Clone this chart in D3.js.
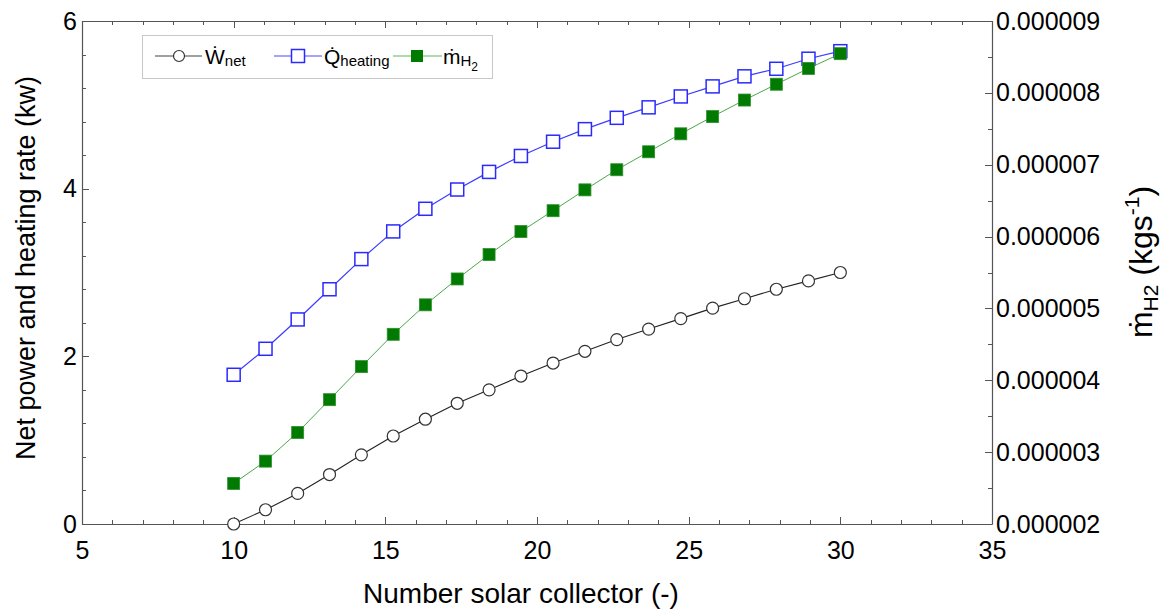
<!DOCTYPE html>
<html>
<head>
<meta charset="utf-8">
<script src="https://cdn.jsdelivr.net/npm/d3@7"></script>
<style>
  html, body { margin: 0; padding: 0; background: #fff; }
  svg { display: block; font-family: "Liberation Sans", Arial, sans-serif; }
</style>
</head>
<body>
<svg id="chart" width="1163" height="613"></svg>
<script>
// Number of solar collectors (20 design points between 10 and 30)
const collectors = [10, 11.05, 12.11, 13.16, 14.21, 15.26, 16.32, 17.37, 18.42, 19.47,
                    20.53, 21.58, 22.63, 23.68, 24.74, 25.79, 26.84, 27.89, 28.95, 30];
// Net power output (kW)
const wNet = [0.00, 0.17, 0.365, 0.59, 0.825, 1.05, 1.25, 1.44, 1.60, 1.765,
              1.92, 2.06, 2.20, 2.325, 2.45, 2.575, 2.687, 2.80, 2.90, 3.00];
// Heating rate (kW)
const qHeating = [1.78, 2.09, 2.44, 2.80, 3.16, 3.49, 3.76, 3.99, 4.20, 4.39,
                  4.56, 4.71, 4.845, 4.97, 5.10, 5.22, 5.34, 5.43, 5.55, 5.64];
// Hydrogen production rate (kg/s)
const mH2 = [2.565e-6, 2.875e-6, 3.274e-6, 3.73e-6, 4.19e-6, 4.64e-6, 5.05e-6, 5.41e-6, 5.75e-6, 6.07e-6,
             6.36e-6, 6.65e-6, 6.93e-6, 7.18e-6, 7.43e-6, 7.67e-6, 7.90e-6, 8.12e-6, 8.34e-6, 8.545e-6];

const xTicks = [5, 10, 15, 20, 25, 30, 35];
const yLeftTicks = [0, 2, 4, 6];
const yRightTicks = [2e-6, 3e-6, 4e-6, 5e-6, 6e-6, 7e-6, 8e-6, 9e-6];

const svg = d3.select("#chart");
const L = 82, R = 992, T = 21, B = 524;

const x = d3.scaleLinear().domain([5, 35]).range([L, R]);
const yL = d3.scaleLinear().domain([0, 6]).range([B, T]);
const yR = d3.scaleLinear().domain([2e-6, 9e-6]).range([B, T]);

const axisColor = "#555";
const tickFont = 25;

// Minor and major tick marks, all pointing into the plot
const gMinor = svg.append("g").attr("stroke", axisColor).attr("stroke-width", 1);
d3.range(5, 35.01, 1).forEach(v => {
  const px = Math.round(x(v)) + 0.5;
  const len = (v % 5 === 0) ? 7 : 4;
  gMinor.append("line").attr("x1", px).attr("x2", px).attr("y1", B).attr("y2", B - len);
  gMinor.append("line").attr("x1", px).attr("x2", px).attr("y1", T).attr("y2", T + len);
});
d3.range(0, 6.001, 0.4).forEach(v => {
  const py = Math.round(yL(v)) + 0.5;
  const major = Math.abs(v / 2 - Math.round(v / 2)) < 1e-6;
  gMinor.append("line").attr("x1", L).attr("x2", L + (major ? 7 : 4)).attr("y1", py).attr("y2", py);
});
d3.range(2e-6, 9.0001e-6, 0.5e-6).forEach((v, i) => {
  const py = Math.round(yR(v)) + 0.5;
  gMinor.append("line").attr("x1", R).attr("x2", R - (i % 2 === 0 ? 7 : 4)).attr("y1", py).attr("y2", py);
});

// Axes (frame lines plus labels)
const xAxis = svg.append("g").attr("transform", `translate(0,${B})`)
  .call(d3.axisBottom(x).tickValues(xTicks).tickFormat(d3.format("d")).tickSize(0).tickPadding(17));
svg.append("line").attr("x1", L).attr("x2", R).attr("y1", T + 0.5).attr("y2", T + 0.5)
  .attr("stroke", axisColor).attr("stroke-width", 1.2);
const yAxisL = svg.append("g").attr("transform", `translate(${L},0)`)
  .call(d3.axisLeft(yL).tickValues(yLeftTicks).tickFormat(d3.format("d")).tickSize(0).tickPadding(5));
const yAxisR = svg.append("g").attr("transform", `translate(${R},0)`)
  .call(d3.axisRight(yR).tickValues(yRightTicks).tickFormat(d3.format(".6f")).tickSize(0).tickPadding(4));

[xAxis, yAxisL, yAxisR].forEach(g => {
  g.select(".domain").attr("stroke", axisColor).attr("stroke-width", 1.2);
  g.selectAll("text").attr("font-size", tickFont).attr("fill", "#000")
    .attr("font-family", "'Liberation Sans', Arial, sans-serif");
});

// Axis titles
svg.append("text")
  .attr("x", 521).attr("y", 603)
  .attr("text-anchor", "middle").attr("font-size", 28)
  .text("Number solar collector (-)");

svg.append("text")
  .attr("transform", `translate(35,268) rotate(-90)`)
  .attr("text-anchor", "middle").attr("font-size", 27)
  .text("Net power and heating rate (kw)");

const rTitle = svg.append("text")
  .attr("transform", `translate(1152,262) rotate(-90)`)
  .attr("text-anchor", "middle").attr("font-size", 32);
rTitle.append("tspan").text("\u1E41");
rTitle.append("tspan").attr("font-size", 21).attr("dy", 6).text("H2");
rTitle.append("tspan").attr("dy", -6).text(" (kgs");
rTitle.append("tspan").attr("font-size", 21).attr("dy", -13).text("-1");
rTitle.append("tspan").attr("dy", 13).text(")");

// Series
const lineL = d3.line().x((d, i) => x(collectors[i])).y(d => yL(d));
const lineR = d3.line().x((d, i) => x(collectors[i])).y(d => yR(d));

// Net power: open circles
svg.append("path").datum(wNet).attr("d", lineL)
  .attr("fill", "none").attr("stroke", "#222").attr("stroke-width", 1.1);
svg.append("g").selectAll("circle").data(wNet).join("circle")
  .attr("cx", (d, i) => x(collectors[i])).attr("cy", d => yL(d)).attr("r", 6)
  .attr("fill", "#fff").attr("stroke", "#333").attr("stroke-width", 1.2);

// Heating rate: open blue squares
const sq = 13;
svg.append("path").datum(qHeating).attr("d", lineL)
  .attr("fill", "none").attr("stroke", "#3b3bff").attr("stroke-width", 1.2);
svg.append("g").selectAll("rect").data(qHeating).join("rect")
  .attr("x", (d, i) => x(collectors[i]) - sq / 2).attr("y", d => yL(d) - sq / 2)
  .attr("width", sq).attr("height", sq)
  .attr("fill", "#fff").attr("stroke", "#2a2aff").attr("stroke-width", 1.5);

// Hydrogen rate: filled green squares on the right axis
const gs = 12;
svg.append("path").datum(mH2).attr("d", lineR)
  .attr("fill", "none").attr("stroke", "#4aa84a").attr("stroke-width", 1);
svg.append("g").selectAll("rect").data(mH2).join("rect")
  .attr("x", (d, i) => x(collectors[i]) - gs / 2).attr("y", d => yR(d) - gs / 2)
  .attr("width", gs).attr("height", gs)
  .attr("fill", "#007a00").attr("stroke", "#2f8f2f").attr("stroke-width", 0.8);

// Legend
const lg = svg.append("g");
lg.append("rect").attr("x", 142.5).attr("y", 35.5).attr("width", 350).attr("height", 43)
  .attr("fill", "#fff").attr("stroke", "#c8c8c8").attr("stroke-width", 1);
const ly = 56;
// Net power entry
lg.append("line").attr("x1", 155).attr("x2", 202).attr("y1", ly).attr("y2", ly)
  .attr("stroke", "#444").attr("stroke-width", 1.2);
lg.append("circle").attr("cx", 179).attr("cy", ly).attr("r", 5.5)
  .attr("fill", "#fff").attr("stroke", "#333").attr("stroke-width", 1.2);
const t1 = lg.append("text").attr("x", 205).attr("y", ly + 8).attr("font-size", 21);
t1.append("tspan").text("\u1E86");
t1.append("tspan").attr("font-size", 15).attr("dy", 2).text("net");
// Heating entry
lg.append("line").attr("x1", 274).attr("x2", 322).attr("y1", ly).attr("y2", ly)
  .attr("stroke", "#4a4aff").attr("stroke-width", 1.2);
lg.append("rect").attr("x", 298 - 6.5).attr("y", ly - 6.5).attr("width", 13).attr("height", 13)
  .attr("fill", "#fff").attr("stroke", "#2a2aff").attr("stroke-width", 1.5);
const t2 = lg.append("text").attr("x", 324).attr("y", ly + 8).attr("font-size", 21);
t2.append("tspan").text("Q\u0307");
t2.append("tspan").attr("font-size", 15).attr("dy", 2).text("heating");
// Hydrogen entry
lg.append("line").attr("x1", 393).attr("x2", 442).attr("y1", ly).attr("y2", ly)
  .attr("stroke", "#5cb85c").attr("stroke-width", 1.2);
lg.append("rect").attr("x", 417 - 6).attr("y", ly - 6).attr("width", 12).attr("height", 12)
  .attr("fill", "#007a00");
const t3 = lg.append("text").attr("x", 443).attr("y", ly + 8).attr("font-size", 21);
t3.append("tspan").text("\u1E41");
t3.append("tspan").attr("font-size", 15).attr("dy", 2).text("H");
t3.append("tspan").attr("font-size", 12).attr("dy", 5).text("2");
</script>
</body>
</html>
